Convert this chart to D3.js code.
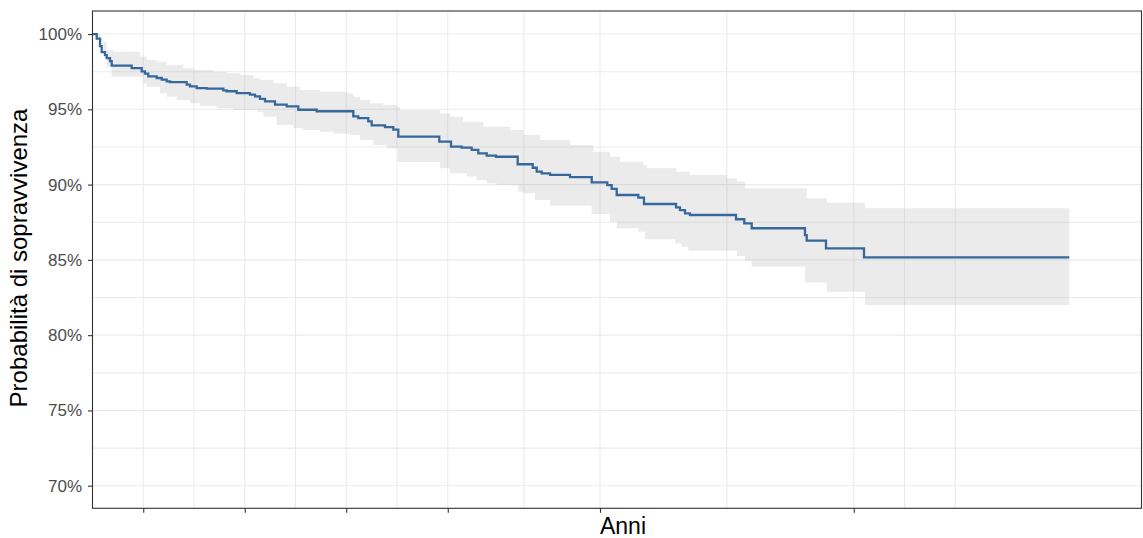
<!DOCTYPE html>
<html>
<head>
<meta charset="utf-8">
<script src="https://cdn.jsdelivr.net/npm/d3@7"></script>
<style>
  html, body { margin: 0; padding: 0; background: #fff; }
  svg { display: block; font-family: "Liberation Sans", Arial, sans-serif; }
</style>
</head>
<body>
<svg id="chart" width="1143" height="538"></svg>
<script>
// ---- data (time in arbitrary units; axis has no tick labels) ----
const survTime = [0, 0.083, 0.148, 0.181, 0.246, 0.28, 0.345, 0.378, 0.772, 0.969, 1.034, 1.10, 1.265, 1.364, 1.462, 1.527, 1.856, 1.921, 2.053, 2.25, 2.577, 2.644, 2.841, 3.103, 3.202, 3.300, 3.399, 3.596, 3.827, 4.055, 4.418, 5.139, 5.237, 5.434, 5.501, 5.764, 5.927, 6.026, 6.833, 7.064, 7.275, 7.472, 7.602, 7.768, 7.951, 8.378, 8.674, 8.753, 8.851, 9.015, 9.409, 9.837, 10.144, 10.230, 10.329, 10.755, 10.867, 11.498, 11.576, 11.675, 11.773, 12.680, 12.843, 12.989, 14.039, 14.073, 14.453, 15.202, 19.247];
const survProb = [1.0, 0.997, 0.992, 0.988, 0.986, 0.984, 0.982, 0.979, 0.9774, 0.9752, 0.9737, 0.9719, 0.9708, 0.9697, 0.9686, 0.968, 0.9664, 0.9653, 0.9641, 0.9637, 0.9626, 0.962, 0.9608, 0.9597, 0.9586, 0.957, 0.9553, 0.9531, 0.952, 0.9497, 0.9487, 0.9453, 0.9442, 0.942, 0.9394, 0.9382, 0.9365, 0.9318, 0.9285, 0.9252, 0.9245, 0.923, 0.9208, 0.9192, 0.9185, 0.9135, 0.9112, 0.9086, 0.9075, 0.9064, 0.905, 0.9015, 0.8997, 0.8971, 0.8931, 0.8913, 0.8871, 0.8849, 0.8831, 0.8809, 0.8798, 0.877, 0.8743, 0.871, 0.8665, 0.8628, 0.8577, 0.8517, 0.8517];

const upperTime = [0, 0.148, 0.28, 0.41, 0.936, 1.068, 1.265, 1.462, 1.789, 1.986, 2.38, 2.644, 2.906, 3.169, 3.3, 3.563, 3.827, 4.089, 4.483, 5.009, 5.139, 5.271, 5.468, 5.73, 5.994, 6.059, 6.847, 7.044, 7.306, 7.7, 8.227, 8.488, 8.818, 9.409, 9.868, 10.197, 10.394, 10.853, 10.92, 11.511, 11.773, 12.497, 12.697, 12.857, 14.073, 14.468, 15.222, 19.247];
const upperProb = [1.0, 0.9949, 0.9894, 0.9883, 0.985, 0.9827, 0.9816, 0.9794, 0.9772, 0.9761, 0.975, 0.9739, 0.9728, 0.9706, 0.9695, 0.9673, 0.965, 0.9628, 0.9617, 0.9606, 0.9584, 0.9562, 0.954, 0.9529, 0.9517, 0.9495, 0.9473, 0.9451, 0.9418, 0.9384, 0.9363, 0.9329, 0.9296, 0.9263, 0.9218, 0.9185, 0.9152, 0.913, 0.9108, 0.9086, 0.9064, 0.9042, 0.902, 0.8975, 0.8909, 0.888, 0.8843, 0.8843];

const lowerTime = [0, 0.083, 0.213, 0.28, 0.378, 1.001, 1.068, 1.33, 1.462, 1.659, 1.921, 2.118, 2.447, 2.774, 3.235, 3.366, 3.63, 3.957, 4.154, 4.483, 4.745, 5.074, 5.271, 5.533, 5.797, 6.02, 6.847, 7.044, 7.373, 7.57, 7.768, 7.965, 8.39, 8.488, 8.719, 9.015, 9.837, 10.197, 10.329, 10.755, 10.887, 11.478, 11.61, 11.74, 12.697, 12.857, 12.989, 14.039, 14.468, 15.222, 19.247];
const lowerProb = [1.0, 0.9971, 0.9872, 0.9783, 0.9716, 0.9673, 0.965, 0.9606, 0.9584, 0.9562, 0.954, 0.9522, 0.9507, 0.9495, 0.9484, 0.9451, 0.9396, 0.9374, 0.9363, 0.9351, 0.934, 0.9329, 0.9296, 0.9263, 0.9241, 0.915, 0.9108, 0.9075, 0.9053, 0.903, 0.9009, 0.8997, 0.8953, 0.8942, 0.8898, 0.886, 0.8805, 0.8754, 0.871, 0.8687, 0.8637, 0.861, 0.8588, 0.8561, 0.8526, 0.8495, 0.8455, 0.8349, 0.8289, 0.82, 0.82];

const xMajorTicks = [1, 3, 5, 7, 10, 15];
const xMinorGrid = [2, 4, 6, 8.5, 12.5, 16, 17];
const yMajorTicks = [0.70, 0.75, 0.80, 0.85, 0.90, 0.95, 1.00];
const yMinorGrid = [0.725, 0.775, 0.825, 0.875, 0.925, 0.975];
const xTitle = "Anni";
const yTitle = "Probabilità di sopravvivenza";

// ---- layout ----
const svg = d3.select("#chart");
const P = { left: 92.5, right: 1141.5, top: 11, bottom: 508.3 };
const x = d3.scaleLinear().domain([0, 20.67]).range([P.left, P.right]);
const y = d3.scaleLinear().domain([0.685, 1.0153]).range([P.bottom, P.top]);

const grid = svg.append("g");
[...yMinorGrid, ...yMajorTicks].forEach(v => {
  grid.append("line").attr("x1", P.left).attr("x2", P.right)
    .attr("y1", y(v)).attr("y2", y(v))
    .attr("stroke", "#EBEBEB").attr("stroke-width", 1.1);
});
[...xMinorGrid, ...xMajorTicks].forEach(v => {
  grid.append("line").attr("y1", P.top).attr("y2", P.bottom)
    .attr("x1", x(v)).attr("x2", x(v))
    .attr("stroke", "#EBEBEB").attr("stroke-width", 1.1);
});

// ---- ribbon: merge step functions ----
function stepVal(ts, vs, t) {
  let v = vs[0];
  for (let i = 0; i < ts.length; i++) { if (ts[i] <= t) v = vs[i]; else break; }
  return v;
}
const allT = Array.from(new Set([...upperTime, ...lowerTime])).sort((a, b) => a - b);
const band = allT.map(t => ({ t, hi: stepVal(upperTime, upperProb, t), lo: stepVal(lowerTime, lowerProb, t) }));

svg.append("path")
  .datum(band)
  .attr("fill", "rgba(153,153,153,0.2)")
  .attr("d", d3.area().curve(d3.curveStepAfter)
    .x(d => x(d.t)).y0(d => y(d.lo)).y1(d => y(d.hi)));

const surv = survTime.map((t, i) => ({ t, s: survProb[i] }));
svg.append("path")
  .datum(surv)
  .attr("fill", "none")
  .attr("stroke", "#36689B")
  .attr("stroke-width", 2.3)
  .attr("d", d3.line().curve(d3.curveStepAfter).x(d => x(d.t)).y(d => y(d.s)));

// ---- border ----
svg.append("rect").attr("x", P.left).attr("y", P.top)
  .attr("width", P.right - P.left).attr("height", P.bottom - P.top)
  .attr("fill", "none").attr("stroke", "#333333").attr("stroke-width", 1.1);

// ---- axes ----
const yAxis = d3.axisLeft(y).tickValues(yMajorTicks).tickSize(4.5).tickPadding(6)
  .tickFormat(d => Math.round(d * 100) + "%");
const gy = svg.append("g").attr("transform", `translate(${P.left},0)`).call(yAxis);
gy.select(".domain").remove();
gy.selectAll(".tick line").attr("stroke", "#333333").attr("stroke-width", 1.1);
gy.selectAll(".tick text").attr("fill", "#4D4D4D").attr("font-size", 17)
  .attr("font-family", "Liberation Sans, Arial, sans-serif");

const xAxis = d3.axisBottom(x).tickValues(xMajorTicks).tickSize(4.5).tickFormat("");
const gx = svg.append("g").attr("transform", `translate(0,${P.bottom})`).call(xAxis);
gx.select(".domain").remove();
gx.selectAll(".tick line").attr("stroke", "#333333").attr("stroke-width", 1.1);

// ---- titles ----
svg.append("text").attr("x", 623).attr("y", 533.5)
  .attr("text-anchor", "middle").attr("font-size", 23).attr("fill", "#000")
  .text(xTitle);
svg.append("text")
  .attr("transform", `translate(27,258) rotate(-90)`)
  .attr("text-anchor", "middle").attr("font-size", 24).attr("fill", "#000")
  .text(yTitle);
</script>
</body>
</html>
